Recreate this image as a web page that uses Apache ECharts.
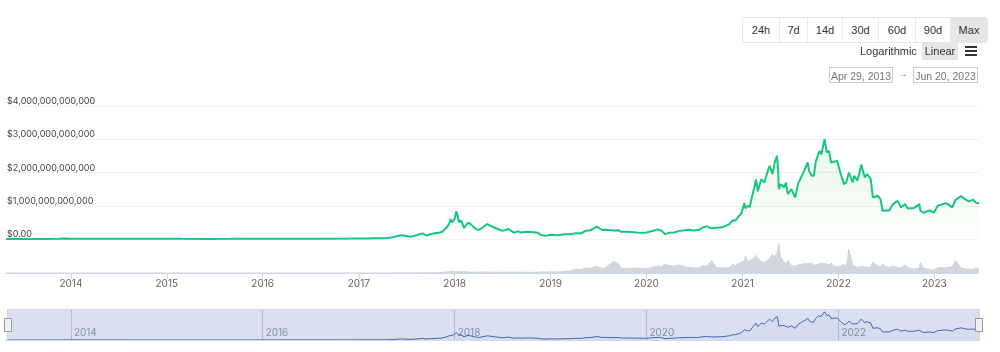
<!DOCTYPE html>
<html>
<head>
<meta charset="utf-8">
<script src="https://cdn.jsdelivr.net/npm/echarts@6/dist/echarts.min.js"></script>
<style>
  html, body { margin: 0; padding: 0; background: #fff; }
  #wrap { position: relative; width: 1000px; height: 352px; overflow: hidden; }
  #chart { position: absolute; left: 0; top: 0; width: 1000px; height: 352px; }
  .ui { position: absolute; font-family: "Liberation Sans", Arial, sans-serif; color: #333; font-size: 11px; }
  .btns { left: 742px; top: 17px; height: 24px; border: 1px solid #e6e6e6; border-radius: 3px; display: flex; background: #fff; }
  .btns span { display: block; height: 24px; line-height: 24px; text-align: center; border-left: 1px solid #ececec; box-sizing: border-box; }
  .btns span:first-child { border-left: none; }
  .btns span.on { background: #e6e6e6; }
  .lin { left: 922px; top: 42px; width: 36px; height: 18px; line-height: 18px; text-align: center; background: #e6e6e6; }
  .burger { left: 965px; top: 46px; width: 12px; height: 11px; }
  .burger i { display: block; height: 2px; background: #333; margin-bottom: 2px; }
  .date { top: 67px; height: 16px; line-height: 16px; border: 1px solid #ccc; color: #777; font-size: 10.5px; text-align: center; box-sizing: border-box; }
</style>
</head>
<body>
<div id="wrap">
  <div id="chart"></div>
  <div class="ui btns">
    <span style="width:36px">24h</span><span style="width:28px">7d</span><span style="width:35px">14d</span><span style="width:36px">30d</span><span style="width:37px">60d</span><span style="width:35px">90d</span><span class="on" style="width:37px">Max</span>
  </div>
  <div class="ui" style="left:860px;top:45px;">Logarithmic</div>
  <div class="ui lin">Linear</div>
  <div class="ui burger"><i></i><i></i><i></i></div>
  <div class="ui date" style="left:829px;width:64px;">Apr 29, 2013</div>
  <div class="ui" style="left:898px;top:68px;color:#777;font-size:10px;">&rarr;</div>
  <div class="ui date" style="left:913px;width:65px;">Jun 20, 2023</div>
</div>
<script>
// total market cap and volume, in billions of USD
const dates = [
  '2013-04-29', '2013-06-01', '2013-08-01', '2013-10-01', '2013-11-15', '2013-12-04',
  '2014-01-01', '2014-03-01', '2014-06-01', '2014-09-01', '2014-12-01',
  '2015-03-01', '2015-06-01', '2015-09-01', '2015-12-01',
  '2016-03-01', '2016-06-01', '2016-09-01', '2016-12-01',
  '2017-01-01', '2017-02-01', '2017-03-01', '2017-04-01', '2017-04-20', '2017-05-10', '2017-05-25',
  '2017-06-12', '2017-06-25', '2017-07-15', '2017-08-01', '2017-08-15', '2017-09-01', '2017-09-15',
  '2017-10-01', '2017-10-15', '2017-11-01', '2017-11-15', '2017-11-29', '2017-12-10', '2017-12-17',
  '2017-12-22', '2017-12-31',
  '2018-01-07', '2018-01-13', '2018-01-17', '2018-01-25', '2018-02-06', '2018-02-20', '2018-03-01',
  '2018-03-18', '2018-04-01', '2018-04-15', '2018-05-05', '2018-05-20', '2018-06-05', '2018-06-28',
  '2018-07-10', '2018-07-25', '2018-08-14', '2018-08-30', '2018-09-12', '2018-10-01', '2018-10-20',
  '2018-11-14', '2018-11-25', '2018-12-15',
  '2019-01-01', '2019-01-28', '2019-02-24', '2019-03-20', '2019-04-05', '2019-04-28', '2019-05-15',
  '2019-06-01', '2019-06-26', '2019-07-16', '2019-07-29', '2019-08-30', '2019-09-18', '2019-09-26',
  '2019-10-22', '2019-10-27', '2019-11-25', '2019-12-18',
  '2020-01-01', '2020-01-20', '2020-02-14', '2020-02-28', '2020-03-12', '2020-03-25', '2020-04-15',
  '2020-05-05', '2020-05-20', '2020-06-10', '2020-06-27', '2020-07-20', '2020-08-02', '2020-08-17',
  '2020-09-05', '2020-09-25', '2020-10-15', '2020-10-30', '2020-11-12', '2020-11-24', '2020-12-05',
  '2020-12-17', '2020-12-27',
  '2021-01-08', '2021-01-12', '2021-01-20', '2021-01-28', '2021-02-08', '2021-02-14', '2021-02-21',
  '2021-02-28', '2021-03-13', '2021-03-25', '2021-04-05', '2021-04-14', '2021-04-25', '2021-05-03',
  '2021-05-12', '2021-05-16', '2021-05-19', '2021-05-26', '2021-06-08', '2021-06-15', '2021-06-22',
  '2021-07-06', '2021-07-20', '2021-07-31', '2021-08-14', '2021-08-23', '2021-09-06', '2021-09-11',
  '2021-09-21', '2021-09-29', '2021-10-06', '2021-10-16', '2021-10-21', '2021-10-28', '2021-11-09',
  '2021-11-18', '2021-11-26', '2021-12-04', '2021-12-10', '2021-12-27',
  '2022-01-10', '2022-01-22', '2022-01-30', '2022-02-10', '2022-02-24', '2022-03-02', '2022-03-14',
  '2022-03-29', '2022-04-11', '2022-04-20', '2022-05-04', '2022-05-12', '2022-05-30', '2022-06-10',
  '2022-06-18', '2022-07-01', '2022-07-13', '2022-07-28', '2022-08-14', '2022-08-27', '2022-09-12',
  '2022-09-22', '2022-10-15', '2022-11-05', '2022-11-09', '2022-11-21', '2022-12-14', '2022-12-30',
  '2023-01-14', '2023-02-15', '2023-03-10', '2023-03-23', '2023-04-13', '2023-04-27', '2023-05-12',
  '2023-05-28', '2023-06-10', '2023-06-15', '2023-06-20'
];

const marketCap = [
  1.6, 1.3, 1.2, 1.6, 5.5, 13,
  10, 7, 8, 6, 5,
  4, 3.6, 4, 6.5,
  7, 10, 11, 13,
  18, 18, 22, 25, 30, 50, 85,
  110, 100, 70, 95, 130, 170, 105,
  145, 170, 185, 220, 330, 440, 600,
  500, 590,
  830, 690, 500, 570, 330, 490, 460,
  330, 270, 330, 450, 390, 330, 250,
  265, 300, 190, 230, 195, 220, 210,
  185, 120, 100,
  128, 110, 140, 140, 175, 170, 250,
  260, 370, 270, 275, 255, 265, 215,
  215, 255, 195, 185,
  195, 235, 290, 245, 145, 185, 195,
  245, 255, 275, 255, 275, 350, 380,
  320, 335, 350, 400, 450, 560, 560,
  680, 770,
  1080, 920, 1000, 960, 1350, 1520, 1790,
  1430, 1800, 1700, 2000, 2200, 1950, 2300,
  2500, 2150, 1500, 1650, 1550, 1700, 1350,
  1500, 1250, 1650, 1900, 2050, 2300, 2050,
  1900, 1900, 2300, 2550, 2650, 2550, 3000,
  2600, 2650, 2300, 2250, 2350,
  1950, 1650, 1700, 2000, 1700, 1900, 1750,
  2230, 1850, 1950, 1800, 1250, 1300, 1200,
  850, 860, 860, 1050, 1150, 950, 1050,
  920, 930, 1050, 850, 790, 860, 790,
  1000, 1080, 950, 1180, 1290, 1200, 1130,
  1180, 1080, 1060, 1080
];

const volume = [
  0.02, 0.02, 0.02, 0.03, 0.1, 0.2,
  0.1, 0.1, 0.05, 0.03, 0.03,
  0.03, 0.02, 0.03, 0.06,
  0.06, 0.1, 0.08, 0.1,
  0.2, 0.2, 0.3, 0.4, 0.6, 1.2, 2.5,
  3, 2.5, 2, 3, 4, 5, 4,
  3, 4, 6, 8, 15, 20, 25,
  32, 22,
  28, 25, 30, 20, 25, 18, 15,
  14, 12, 14, 18, 14, 12, 10,
  11, 14, 12, 12, 12, 11, 10,
  12, 18, 15,
  20, 18, 30, 35, 60, 55, 80,
  75, 110, 70, 85, 190, 140, 70,
  75, 100, 80, 75,
  70, 90, 110, 100, 140, 120, 110,
  130, 110, 90, 80, 85, 120, 110,
  200, 80, 85, 80, 90, 140, 120,
  150, 170,
  200, 280, 180, 200, 230, 200, 280,
  240, 180, 170, 200, 230, 300, 260,
  330, 300, 470, 250, 180, 140, 200,
  120, 110, 130, 140, 150, 150, 180,
  160, 120, 150, 140, 170, 160, 150,
  150, 130, 160, 120, 100,
  110, 140, 90, 380, 130, 100, 90,
  110, 100, 90, 100, 180, 110, 100,
  140, 100, 90, 110, 90, 80, 130,
  90, 60, 80, 170, 80, 60, 45,
  90, 85, 100, 200, 80, 70, 60,
  50, 80, 70, 60
];

const yearTicks = [2014, 2015, 2016, 2017, 2018, 2019, 2020, 2021, 2022, 2023];
const navYearTicks = [2014, 2016, 2018, 2020, 2022];

const ts = d => { const p = d.split('-'); return Date.UTC(+p[0], +p[1] - 1, +p[2]); };
const capData = dates.map((d, i) => [ts(d), marketCap[i]]);
const volData = dates.map((d, i) => [ts(d), volume[i]]);
const toTime = years => years.map(y => Date.UTC(y, 0, 1));
const xMin = ts(dates[0]);
const xMax = ts(dates[dates.length - 1]);
const yearOf = v => String(new Date(v).getUTCFullYear());

function moneyLabel(v) {
  if (v === 0) return '$0.00';
  return '$' + (v * 1e9).toLocaleString('en-US');
}

const chart = echarts.init(document.getElementById('chart'), null, { renderer: 'canvas' });

chart.setOption({
  animation: false,
  grid: [
    { left: 6, right: 21, top: 106, height: 133, containLabel: false, outerBoundsMode: 'none' },
    { left: 6, right: 21, top: 243, height: 30, containLabel: false, outerBoundsMode: 'none' },
    { left: 6, right: 21, top: 309, height: 31, containLabel: false, outerBoundsMode: 'none' },
  ],
  xAxis: [
    {
      type: 'value', gridIndex: 0, min: xMin, max: xMax,
      axisLine: { show: false }, axisTick: { show: false }, axisLabel: { show: false }, splitLine: { show: false },
    },
    {
      type: 'value', gridIndex: 1, min: xMin, max: xMax,
      axisLine: { show: true, lineStyle: { color: '#ccd6eb', width: 1 } },
      axisTick: { show: true, length: 6, lineStyle: { color: '#ccd6eb' }, customValues: toTime(yearTicks) },
      axisLabel: {
        show: true, customValues: toTime(yearTicks), margin: 6,
        color: '#666', fontSize: 10, fontFamily: 'Inter',
        formatter: yearOf,
      },
      splitLine: { show: false },
    },
    {
      type: 'value', gridIndex: 2, min: xMin, max: xMax,
      axisLine: { show: false },
      axisTick: { show: false, customValues: toTime(navYearTicks) },
      axisLabel: {
        show: true, inside: true, customValues: toTime(navYearTicks), margin: 2,
        align: 'left', padding: [0, 0, 0, 3], verticalAlign: 'bottom',
        color: '#8d93a3', fontSize: 10, fontFamily: 'Inter',
        formatter: yearOf,
      },
      splitLine: { show: true, lineStyle: { color: '#c9d0e2', width: 1 } },
    },
  ],
  yAxis: [
    {
      type: 'value', gridIndex: 0, min: 0, max: 4000, interval: 1000,
      axisLine: { show: false }, axisTick: { show: false },
      axisLabel: {
        inside: true, margin: 1, verticalAlign: 'bottom', padding: [0, 0, 0, 0],
        color: '#3e4451', fontSize: 9, fontFamily: 'Inter',
        formatter: moneyLabel,
      },
      splitLine: { lineStyle: { color: '#f2f2f2', width: 1 } },
    },
    {
      type: 'value', gridIndex: 1, min: 0, max: 480,
      axisLine: { show: false }, axisTick: { show: false }, axisLabel: { show: false }, splitLine: { show: false },
    },
    {
      type: 'value', gridIndex: 2, min: 0, max: 3300,
      axisLine: { show: false }, axisTick: { show: false }, axisLabel: { show: false }, splitLine: { show: false },
    },
  ],
  dataZoom: [
    {
      type: 'slider', xAxisIndex: [0, 1], filterMode: 'none', start: 0, end: 100,
      left: 6, right: 21, top: 309, height: 32,
      backgroundColor: 'rgba(0,0,0,0)', borderColor: '#d3d9e6', borderRadius: 0,
      fillerColor: 'rgba(102,133,194,0.25)',
      showDataShadow: false, showDetail: false, brushSelect: false, moveHandleSize: 0,
      handleIcon: 'path://M0,0 L7,0 L7,13 L0,13 Z', handleSize: 13,
      handleStyle: { color: '#f2f2f2', borderColor: '#999', borderWidth: 1 },
      zoomLock: true,
    },
  ],
  series: [
    {
      name: 'Market Cap', type: 'line', xAxisIndex: 0, yAxisIndex: 0,
      data: capData, symbol: 'none', smooth: false,
      lineStyle: { color: '#16c784', width: 2 },
      itemStyle: { color: '#16c784' },
      areaStyle: {
        color: new echarts.graphic.LinearGradient(0, 0, 0, 1, [
          { offset: 0, color: 'rgba(120,200,100,0.22)' },
          { offset: 1, color: 'rgba(120,200,100,0.02)' },
        ]),
      },
      z: 3,
    },
    {
      name: 'Volume', type: 'line', xAxisIndex: 1, yAxisIndex: 1,
      data: volData, symbol: 'none',
      lineStyle: { color: '#d3d6de', width: 1 },
      areaStyle: { color: '#d3d6de', opacity: 1 },
    },
    {
      name: 'Navigator', type: 'line', xAxisIndex: 2, yAxisIndex: 2,
      data: capData, symbol: 'none',
      lineStyle: { color: '#335cad', width: 1 },
      areaStyle: { color: 'rgba(51,92,173,0.05)' },
    },
  ],
});

window.addEventListener('resize', () => chart.resize());
</script>
</body>
</html>
